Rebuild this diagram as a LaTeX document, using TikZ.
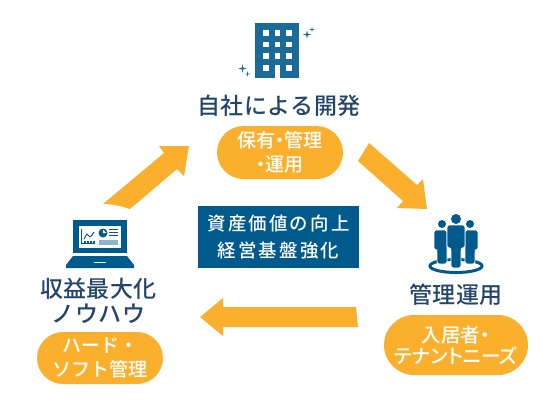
\documentclass[tikz,border=0pt]{standalone}
\usepackage{fontspec}
\usepackage{xcolor}
\usetikzlibrary{calc,positioning,shapes.misc}
\setmainfont{Noto Sans CJK JP}
\newfontfamily\titlefont[LetterSpace=2]{Noto Sans CJK JP Medium}
\newfontfamily\pillfont[RawFeature=+palt]{Noto Sans CJK JP Medium}
\newfontfamily\plainpillfont{Noto Sans CJK JP Medium}
\newfontfamily\boxfont[LetterSpace=12]{Noto Sans CJK JP Medium}
\definecolor{navytext}{HTML}{24456B}
\definecolor{deepblue}{HTML}{005A8C}
\definecolor{towerblue}{HTML}{1A6A9A}
\definecolor{softblue}{HTML}{8AB4D0}
\definecolor{amber}{HTML}{FBB02D}
\tikzset{
  heading/.style={text=navytext, align=center, inner sep=0pt, font=\titlefont\fontsize{23}{25}\selectfont},
  pill/.style={rounded rectangle, fill=amber, text=white, align=center, inner sep=0pt, font=\pillfont\fontsize{19}{23.5}\selectfont},
  banner/.style={fill=deepblue, text=white, align=center, inner sep=0pt, font=\boxfont\fontsize{18.4}{27}\selectfont},
  blockarrow/.style={fill=amber, draw=none},
  glint/.style={fill=towerblue, draw=none},
  icon/.style={fill=deepblue, draw=none},
  figure/.style={fill=deepblue, draw=white, line width=0.7pt, rounded corners=2.5pt}
}
\newcommand{\sparkle}[3]{\fill[glint] (#1-#3,#2) -- (#1-0.2*#3,#2-0.2*#3) -- (#1,#2-#3) -- (#1+0.2*#3,#2-0.2*#3) -- (#1+#3,#2) -- (#1+0.2*#3,#2+0.2*#3) -- (#1,#2+#3) -- (#1-0.2*#3,#2+0.2*#3) -- cycle;}
\begin{document}
\begin{tikzpicture}[x=1pt,y=-1pt]
  \useasboundingbox (0,0) rectangle (556,405);

  % arrows
  \fill[blockarrow] (103,204) .. controls (112,204) and (121,206) .. (130,209) -- (177,169) -- (184,176) -- (189,146) -- (159,146) -- (164,153) -- cycle;
  \fill[blockarrow] (369,143) -- (358,161) -- (403,201) -- (397,208) -- (427,209) -- (423,179) -- (417,185) -- cycle;
  \fill[blockarrow] (200,317) -- (223,298) -- (223,307) -- (356,307) -- (358,327) -- (223,327) -- (223,336) -- cycle;

  % building
  \fill[towerblue] (255,23) rectangle (299,78);
  \foreach \y in {30,41.7,53.3,65} {
    \foreach \x in {263,274.5,286} {
      \fill[white] (\x,\y) rectangle ++(5.5,5.5);
    }
  }
  \fill[white] (274.5,65) rectangle (280,78);
  \sparkle{307}{34.5}{4.2}
  \sparkle{312}{29.5}{2.6}
  \sparkle{242.5}{68.5}{4.2}
  \sparkle{247.5}{74}{2.6}

  \node[heading] (develop) at (279,106) {自社による開発};
  \node[pill, minimum width=126pt, minimum height=53pt] (holding) at (280,152.5) {保有・管理\\・運用};

  % centre box
  \node[banner, minimum width=161pt, minimum height=62pt] (value) at (278.5,237) {資産価値の向上\\経営基盤強化};

  % laptop
  \fill[icon] (73,220) rectangle (127,253);
  \fill[white] (79,226) rectangle (121,248);
  \fill[icon] (73,256) -- (127,256) -- (134,265) -- (134,268) -- (66,268) -- (66,265) -- cycle;
  \fill[white] (94,261.5) rectangle (106,263);
  \draw[deepblue, line width=0.9pt] (81,229) -- (81,243.5) -- (95,243.5);
  \draw[deepblue, line width=1pt] (84,239) -- (87,234) -- (90,237) -- (92,235) -- (94,232);
  \foreach \x in {84,87,90,93} {
    \fill[deepblue] (\x,241) rectangle ++(1.5,2);
  }
  \fill[deepblue] (103,233) circle (4.5pt);
  \fill[white] (103,233) -- (103,229.5) -- (106.5,233) -- cycle;
  \foreach \y in {230,233,236} {
    \fill[deepblue] (109,\y-1) rectangle (118,\y);
  }
  \fill[softblue] (99,240) rectangle (118,245);

  \node[heading] (knowhow) at (98.5,300.5) {収益最大化\\ノウハウ};
  \node[pill, minimum width=126pt, minimum height=52pt, font=\plainpillfont\fontsize{19}{23.5}\selectfont] (hardsoft) at (100,358) {ハード・\\ソフト管理};

  % people
  \draw[deepblue, line width=3pt] (456,266) ellipse (26pt and 6.5pt);
  \fill[icon] (442,224) circle (4pt);
  \fill[icon] (470,224) circle (4pt);
  \draw[figure] (434,230) -- (447,230) -- (447,264) -- (437,264) -- (437,250) -- (434,250) -- cycle;
  \draw[figure] (465,230) -- (478,230) -- (478,250) -- (475,250) -- (475,264) -- (465,264) -- cycle;
  \fill[icon] (456,219) circle (5pt);
  \draw[figure] (447,225) -- (465,225) -- (465,248) -- (461,248) -- (461,268) -- (451,268) -- (451,248) -- (447,248) -- cycle;

  \node[heading] (manage) at (456,295) {管理運用};
  \node[pill, minimum width=144pt, minimum height=60pt, font=\pillfont\fontsize{19.5}{21}\selectfont] (tenant) at (456,345) {入居者・\\テナントニーズ};
\end{tikzpicture}
\end{document}
